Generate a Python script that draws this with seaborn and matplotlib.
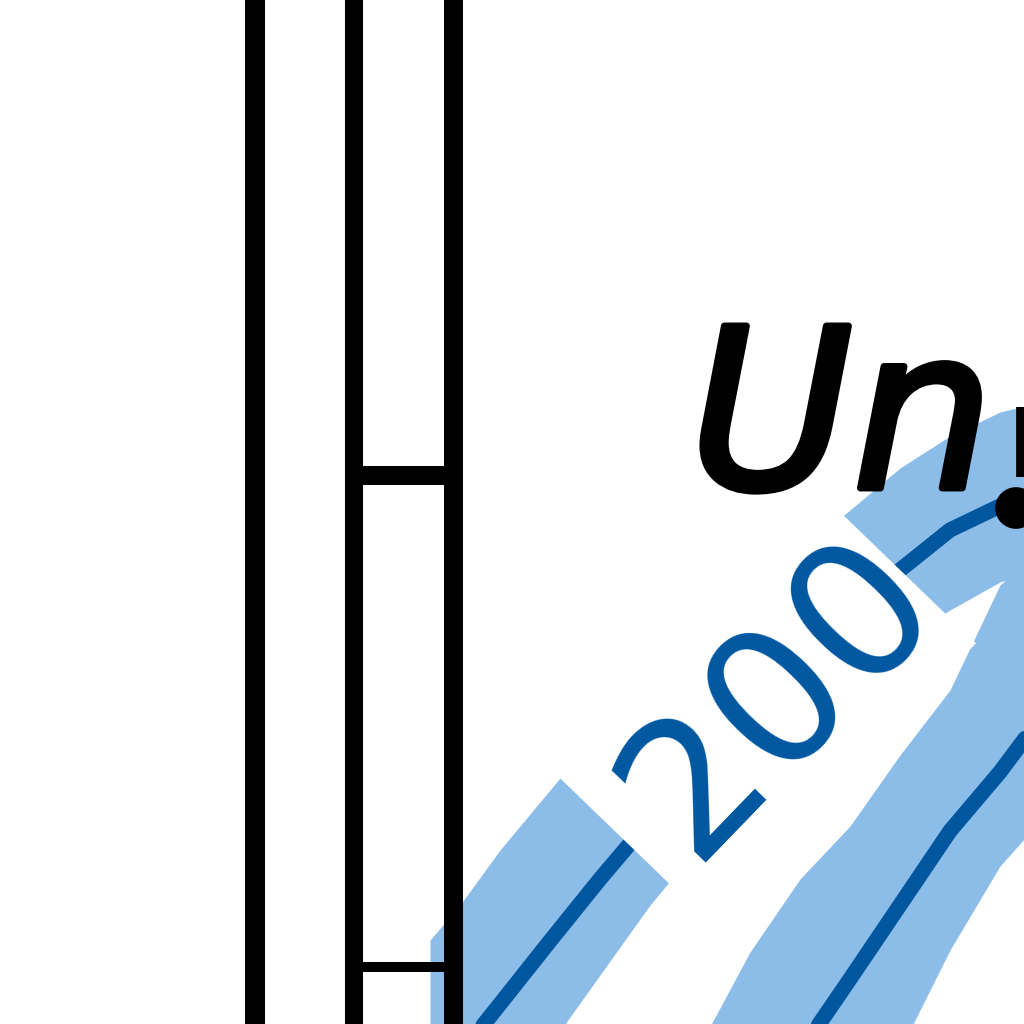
import matplotlib
matplotlib.use("Agg")
import matplotlib.pyplot as plt
import matplotlib.patheffects as pe
from matplotlib.patches import Polygon
import numpy as np
import seaborn as sns
import pandas as pd

# Contour-like line at level 200 (left) and its band
x_a = [4.3, 4.6, 5.0, 5.5, 6.0, 6.5, 7.0, 7.5, 8.0, 8.5, 9.0, 9.5, 10.0, 10.5]
y_a = [-0.67, -0.30, 0.20, 0.83, 1.45, 2.04, 2.56, 3.07, 3.57, 4.07, 4.54, 4.94, 5.18, 5.38]
hi_a = [0.84, 1.19, 1.74, 2.34, 2.94, 3.44, 3.94, 4.34, 4.74, 5.14, 5.56, 5.88, 6.12, 6.24]
lo_a = [-2.5, -1.26, -0.76, -0.21, 0.49, 1.19, 1.79, 2.39, 2.94, 3.44, 3.84, 4.14, 4.42, 4.59]

# Second line (right) and its band
x_b = [7.0, 7.5, 8.0, 8.5, 9.0, 9.5, 10.0, 10.5]
y_b = [-1.7, -1.0, -0.28, 0.45, 1.19, 1.93, 2.52, 3.19]
hi_b = [-0.21, 0.72, 1.45, 1.98, 2.69, 3.34, 4.39, 4.84]
lo_b = [-3.0, -2.5, -1.16, -0.56, -0.26, 0.74, 1.58, 2.14]

# Black frame lines on the left
divider_x = [2.55, 3.54, 4.53]
rung_y = [5.49, 0.57]

# Black point markers at the right edge
mark_x = [10.16]
mark_y = [5.16]
tick_x = [10.21]
tick_y = [5.82]

dark_blue = "#0057A0"
light_blue = "#8BBDE8"

label_text = "200"
label_xy = (8.17, 2.91)
label_angle = 46

df = pd.DataFrame({
    "x": x_a + x_b,
    "y": y_a + y_b,
    "series": ["a"] * len(x_a) + ["b"] * len(x_b),
})

sns.set_style("white")
fig = plt.figure(figsize=(10.24, 10.24), dpi=100)
ax = fig.add_axes([0, 0, 1, 1])

ax.fill_between(x_a, lo_a, hi_a, color=light_blue, lw=0, zorder=1)
ax.fill_between(x_b, lo_b, hi_b, color=light_blue, lw=0, zorder=1)

sns.lineplot(data=df, x="x", y="y", units="series", estimator=None,
             color=dark_blue, lw=11, legend=False, ax=ax, zorder=2)

ax.vlines(divider_x, -1, 11, colors="black", lw=[14.4, 13, 13.7], zorder=3)
ax.hlines(rung_y, divider_x[1], divider_x[2], colors="black", lw=[13.7, 7.2], zorder=3)

# white gap behind the inline label (line and band are broken there)
ang = np.deg2rad(label_angle)
u = np.array([np.cos(ang), np.sin(ang)])
n = np.array([np.sin(ang), -np.cos(ang)])
B = np.array(label_xy)
corners = [B + a * u + b * n for a, b in [(-2.11, -2.48), (1.75, -2.48), (1.75, 0.52), (-2.11, 0.52)]]
ax.add_patch(Polygon(corners, closed=True, facecolor="white", edgecolor="none", zorder=3.5))

ax.text(label_xy[0], label_xy[1], label_text, color=dark_blue, fontsize=136,
        rotation=label_angle, rotation_mode="anchor", ha="center", va="baseline",
        zorder=4)

ax.text(6.9, 5.36, "Un", color="black", fontsize=160, style="italic",
        ha="left", va="baseline", zorder=5,
        path_effects=[pe.withStroke(linewidth=5, foreground="black")])

sns.scatterplot(x=mark_x, y=mark_y, marker="o", s=900, color="black",
                edgecolor="none", ax=ax, zorder=5, legend=False)
ax.scatter(tick_x, tick_y, marker="|", s=2500, linewidths=7, color="black", zorder=5)

ax.set_xlim(0, 10.24)
ax.set_ylim(0, 10.24)
ax.axis("off")

plt.savefig("out.png", dpi=100)
